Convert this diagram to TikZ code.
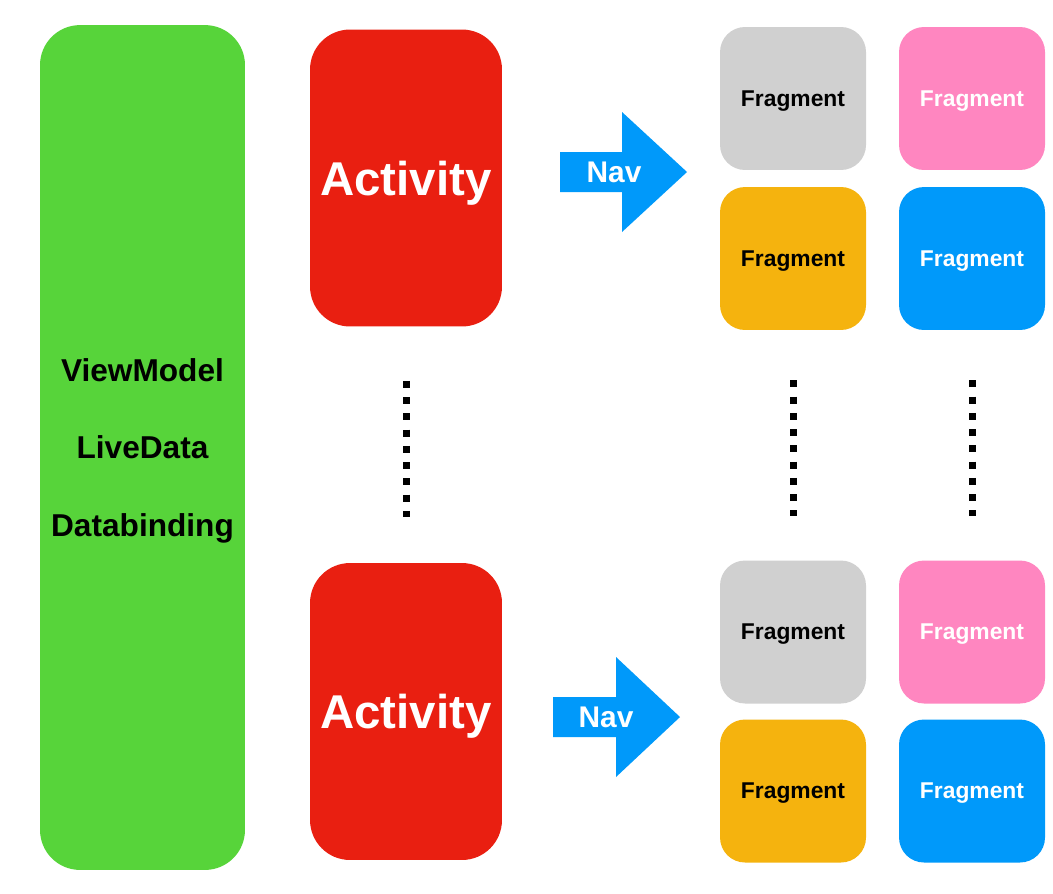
\documentclass[tikz,border=0pt]{standalone}
\usepackage{fontspec}
\setmainfont{Liberation Sans}
\definecolor{vmgreen}{RGB}{87,212,58}
\definecolor{actred}{RGB}{233,31,17}
\definecolor{navblue}{RGB}{0,153,250}
\definecolor{fraggray}{RGB}{208,208,208}
\definecolor{fragpink}{RGB}{255,134,192}
\definecolor{fragorange}{RGB}{245,179,14}
\definecolor{fragblue}{RGB}{0,153,250}
\begin{document}
\begin{tikzpicture}[x=0.02cm, y=-0.02cm,
    act/.style={rounded corners=0.8cm, inner sep=0pt, fill=actred, text=white, text depth=0pt,
      minimum width=3.84cm, minimum height=5.94cm, font=\fontsize{27}{32}\selectfont\bfseries},
    frag/.style={rounded corners=0.5cm, inner sep=0pt, text depth=0pt, minimum width=2.92cm,
      minimum height=2.86cm, font=\fontsize{13}{15}\selectfont\bfseries},
    navtext/.style={text=white, inner sep=0pt, font=\fontsize{17}{20}\selectfont\bfseries},
    dots/.style={line width=0.14cm, dash pattern=on 0.14cm off 0.185cm}]
            \useasboundingbox (0,0) rectangle (1053,893);

            \node[rounded corners=0.8cm, fill=vmgreen, minimum width=4.1cm, minimum height=16.9cm,
              align=center, text depth=0pt, font=\fontsize{18}{44}\selectfont\bfseries] (vm) at (142.5,447.5)
              {ViewModel\\LiveData\\Databinding};

            \node[act] (act1) at (406,178) {Activity};
            \node[act] (act2) at (406,711.5) {Activity};

            % nav arrows
            \fill[navblue] (560,152) -- (622,152) -- (622,112) -- (687,172) -- (622,232) -- (622,192) -- (560,192) -- cycle;
            \fill[navblue] (553,697) -- (616,697) -- (616,657) -- (680,717) -- (616,777) -- (616,737) -- (553,737) -- cycle;
            \node[navtext] (nav1) at (614,172) {Nav};
            \node[navtext] (nav2) at (606,717) {Nav};

            \node[frag, fill=fraggray] (g1) at (793,98.5) {Fragment};
            \node[frag, fill=fragpink, text=white] (p1) at (972,98.5) {Fragment};
            \node[frag, fill=fragorange] (o1) at (793,258.5) {Fragment};
            \node[frag, fill=fragblue, text=white] (b1) at (972,258.5) {Fragment};

            \node[frag, fill=fraggray] (g2) at (793,632) {Fragment};
            \node[frag, fill=fragpink, text=white] (p2) at (972,632) {Fragment};
            \node[frag, fill=fragorange] (o2) at (793,791) {Fragment};
            \node[frag, fill=fragblue, text=white] (b2) at (972,791) {Fragment};

            \draw[dots, shorten <=1.08cm, shorten >=0.92cm] (act1) -- (act2);
            \draw[dots, shorten <=1.0cm, shorten >=0.88cm] (o1) -- (g2);
            \draw[dots, shorten <=1.0cm, shorten >=0.88cm] (b1) -- (p2);
          \end{tikzpicture}
\end{document}
